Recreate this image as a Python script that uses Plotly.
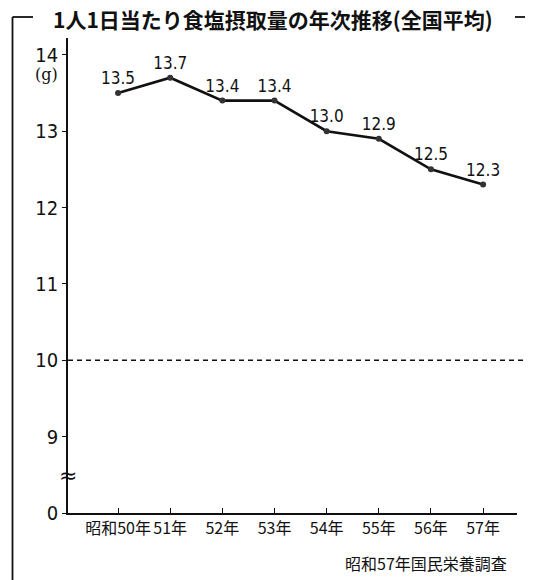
import plotly.graph_objects as go

years = ["昭和50年", "51年", "52年", "53年", "54年", "55年", "56年", "57年"]
salt = [13.5, 13.7, 13.4, 13.4, 13.0, 12.9, 12.5, 12.3]
y_tick_vals = [8, 9, 10, 11, 12, 13, 14]
y_tick_text = ["0", "9", "10", "11", "12", "13", "14"]
title_text = "1人1日当たり食塩摂取量の年次推移(全国平均)"
source_text = "昭和57年国民栄養調査"
unit_text = "(g)"
ref_value = 10

NUM_FONT = "DejaVu Sans Condensed, Noto Sans CJK JP"
JP_FONT = "Noto Sans CJK JP, DejaVu Sans Condensed"

xs = list(range(len(years)))

fig = go.Figure()
fig.add_trace(go.Scatter(
    x=xs, y=salt,
    mode="lines+markers+text",
    line=dict(color="#111111", width=2.6),
    marker=dict(color="#333333", size=6),
    text=[f"{v:.1f}" for v in salt],
    textposition="top center",
    textfont=dict(family=NUM_FONT, size=17, color="#111111"),
    showlegend=False,
    cliponaxis=False,
))

# page body has an 8px margin, so the figure is drawn in page coords shifted by OFF
OFF = 8
W, H = 533 - OFF, 580 - OFF
# plot area in page pixels: x 68..517, y 38..513
L, R, T, B = 68 - OFF, 533 - 517, 38 - OFF, 580 - 513
pw = W - L - R
ph = H - T - B

def px(p):
    return (p - OFF - L) / pw

def py(q):
    return (H - B - (q - OFF)) / ph

shapes = [
    dict(type="line", xref="paper", yref="y", x0=0, x1=px(535), y0=ref_value, y1=ref_value,
         line=dict(color="#111111", width=1.5, dash="5px,4px")),
    dict(type="line", xref="paper", yref="paper", x0=px(12.5), x1=px(12.5), y0=py(17), y1=py(590),
         line=dict(color="#111111", width=1.8)),
    dict(type="line", xref="paper", yref="paper", x0=px(12.5), x1=px(33), y0=py(17), y1=py(17),
         line=dict(color="#111111", width=1.8)),
    dict(type="line", xref="paper", yref="paper", x0=px(515), x1=px(540), y0=py(17), y1=py(17),
         line=dict(color="#111111", width=1.8)),
]

annotations = [
    dict(text=title_text, xref="paper", yref="paper", x=px(273), y=py(19),
         xanchor="center", yanchor="middle", showarrow=False, borderpad=0,
         font=dict(family=JP_FONT, size=21, color="#111111", weight="bold")),
    dict(text=unit_text, xref="paper", yref="paper", x=px(46), y=py(74),
         xanchor="center", yanchor="middle", showarrow=False,
         font=dict(family="DejaVu Serif, serif", size=16, color="#111111")),
    dict(text=source_text, xref="paper", yref="paper", x=px(509), y=py(563),
         xanchor="right", yanchor="middle", showarrow=False,
         font=dict(family=JP_FONT, size=16, color="#111111")),
    dict(text="≈", xref="paper", yref="paper", x=0, y=py(475),
         xanchor="center", yanchor="middle", showarrow=False,
         font=dict(family="DejaVu Sans", size=22, color="#111111")),
]

fig.update_layout(
    width=W, height=H,
    margin=dict(l=L, r=R, t=T, b=B, autoexpand=False),
    paper_bgcolor="white", plot_bgcolor="white",
    shapes=shapes, annotations=annotations,
    xaxis=dict(
        range=[-0.96, 7.65], tickvals=xs, ticktext=years, tickangle=0, automargin=False,
        showgrid=False, zeroline=False, showline=True, linecolor="#111111", linewidth=1.8,
        ticks="inside", ticklen=5, tickcolor="#111111", tickwidth=1.2,
        tickfont=dict(family=JP_FONT, size=16, color="#111111"),
    ),
    yaxis=dict(
        range=[8, 14.22], tickvals=y_tick_vals, ticktext=y_tick_text, automargin=False,
        showgrid=False, zeroline=False, showline=True, linecolor="#111111", linewidth=1.8,
        ticks="outside", ticklen=4, tickcolor="#111111", tickwidth=1.2,
        tickfont=dict(family=NUM_FONT, size=20, color="#111111"),
    ),
)

fig.write_html("out.html")
